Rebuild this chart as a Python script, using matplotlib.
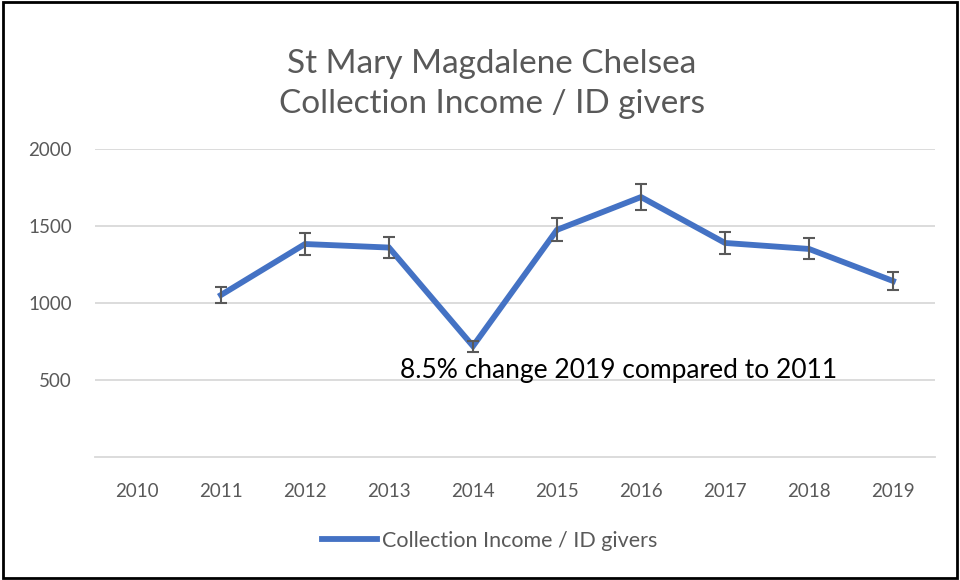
import numpy as np
import matplotlib.pyplot as plt
from matplotlib.patches import Rectangle

# --- DATA ---
years = ["2010", "2011", "2012", "2013", "2014", "2015", "2016", "2017", "2018", "2019"]
income = [np.nan, 1052, 1383, 1360, 720, 1475, 1688, 1390, 1351, 1143]
err = [np.nan, 53, 69, 68, 36, 74, 84, 70, 68, 57]
yticks = [500, 1000, 1500, 2000]

title = "St Mary Magdalene Chelsea\nCollection Income / ID givers"
series_name = "Collection Income / ID givers"
note = "8.5% change 2019 compared to 2011"

# --- STYLE ---
blue = "#4472c4"
grey_txt = "#595959"
grid_col = "#d9d9d9"
plt.rcParams['font.family'] = ['Lato', 'DejaVu Sans']

fig = plt.figure(figsize=(9.6, 5.8), dpi=100)
ax = fig.add_axes([95 / 960, 1 - 457 / 580, 840 / 960, 308 / 580])

x = np.arange(len(years))
ax.plot(x, income, color=blue, lw=4.2, solid_joinstyle='miter', label=series_name, zorder=3)
ax.errorbar(x, income, yerr=err, fmt='none', ecolor=grey_txt, elinewidth=1.5,
            capsize=4, capthick=1.5, zorder=4)

ax.set_xlim(-0.5, len(years) - 0.5)
ax.set_ylim(0, 2000)
ax.set_xticks(x)
ax.set_xticklabels(years)
ax.set_yticks(yticks)
ax.set_yticklabels([str(v) for v in yticks])
ax.tick_params(axis='both', length=0, labelsize=13.5, colors=grey_txt)
ax.tick_params(axis='x', pad=19)
ax.tick_params(axis='y', pad=16.5)
ax.grid(axis='y', color=grid_col, lw=1.3)
ax.set_axisbelow(True)
for s in ["top", "right", "left"]:
    ax.spines[s].set_visible(False)
ax.spines["bottom"].set_color(grid_col)
ax.spines["bottom"].set_linewidth(1.3)

fig.text(492 / 960, 1 - 84 / 580, title, ha='center', va='center', fontsize=24,
         color=grey_txt, linespacing=1.42)

ax.text(3.13, 560, note, ha='left', va='center', fontsize=19, color='black')

fig.legend(loc='center', bbox_to_anchor=(490 / 960, 1 - 541 / 580), frameon=False,
           fontsize=15.5, labelcolor=grey_txt, handlelength=2.55, handletextpad=0.23)

# outer frame
fig.patches.append(Rectangle((0.003, 0.004), 0.994, 0.992, transform=fig.transFigure,
                             fill=False, edgecolor='black', lw=2))

fig.savefig("out.png", dpi=100)
